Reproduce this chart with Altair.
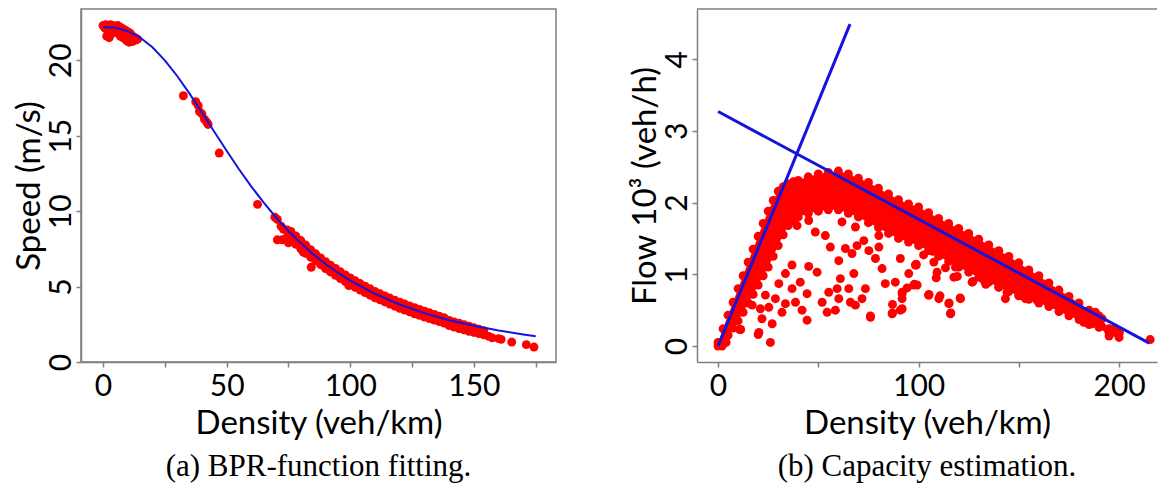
import altair as alt
import pandas as pd

# ---------------- (a) BPR-function fitting ----------------
bpr_x = [0, 5, 10, 15, 20, 25, 30, 35, 40, 45, 50, 55, 60, 65, 70, 75, 80, 85, 90, 95,
         100, 110, 120, 130, 140, 150, 160, 170, 175]
bpr_y = [22.2, 22.15, 21.93, 21.51, 20.86, 20.0, 18.96, 17.79, 16.54, 15.26, 14.0, 12.78,
         11.63, 10.56, 9.58, 8.68, 7.88, 7.15, 6.5, 5.92, 5.4, 4.51, 3.81, 3.24, 2.77, 2.4,
         2.09, 1.83, 1.71]

free_x = [0, 1, 2, 3, 4, 5, 6, 7, 8, 9, 10, 11, 12, 13, 14, 1.5, 2.5, 4, 5.5, 7, 8, 9.5,
          10.5, 12, 13.5, 3, 6, 1, 0.5, 11]
free_y = [22.3, 22.35, 22.3, 22.35, 22.3, 22.25, 22.3, 22.2, 22.1, 22.0, 21.9, 21.8, 21.6,
          21.5, 21.4, 21.6, 21.5, 21.8, 21.9, 21.6, 21.5, 21.3, 21.2, 21.25, 21.35, 22.0,
          22.05, 22.1, 22.2, 21.5]

mid_x = [32.5, 37.5, 38.5, 39, 40, 41, 42, 42.5, 47, 62.5, 69.5, 70.5, 72, 73, 74.5, 70.5,
         72.5, 74, 75, 81, 84.2, 89, 99.4]
mid_y = [17.65, 17.25, 17.0, 16.6, 16.45, 16.1, 15.9, 15.75, 13.85, 10.45, 9.6, 9.45, 9.0,
         8.8, 8.75, 8.1, 8.1, 8.2, 7.9, 7.28, 6.28, 6.4, 5.07]

cong_x = [76, 78, 80, 82, 84, 86, 88, 90, 92, 94, 96, 98, 100, 102, 104, 106, 108, 110, 112,
          114, 116, 118, 120, 122, 124, 126, 128, 130, 132, 134, 136, 138, 140, 142, 144, 146,
          148, 150, 152, 154]
cong_hi = [8.65, 8.35, 8.05, 7.75, 7.45, 7.17, 6.9, 6.65, 6.42, 6.2, 5.98, 5.77, 5.57, 5.38,
           5.2, 5.02, 4.85, 4.67, 4.52, 4.38, 4.24, 4.1, 3.96, 3.84, 3.72, 3.6, 3.48, 3.37,
           3.26, 3.15, 3.04, 2.93, 2.75, 2.66, 2.57, 2.47, 2.37, 2.27, 2.18, 2.08]
cong_lo = [8.1, 7.8, 7.5, 7.2, 6.95, 6.7, 6.45, 6.2, 5.97, 5.75, 5.53, 5.33, 5.13, 4.95, 4.77,
           4.6, 4.43, 4.26, 4.12, 3.98, 3.84, 3.7, 3.56, 3.44, 3.32, 3.2, 3.09, 2.98, 2.88,
           2.78, 2.68, 2.58, 2.42, 2.32, 2.22, 2.13, 2.04, 1.96, 1.88, 1.8]

tail_x = [156, 157.4, 160, 161, 165.3, 171.2, 174.3]
tail_y = [1.7, 1.6, 1.55, 1.5, 1.32, 1.15, 0.99]

# ---------------- (b) Capacity estimation ----------------
band_x = [0, 2.5, 5, 7.5, 10, 12.5, 15, 17.5, 20, 22.5, 25, 27.5, 30, 32.5, 35, 37.5, 40,
          45, 50, 55, 60, 65, 70, 75, 80, 85, 90, 95, 100, 105, 110, 115, 120, 125, 130, 135,
          140, 145, 150, 155, 160, 165, 170, 175, 180, 185, 190, 195, 200]
band_top = [0.05, 0.24, 0.43, 0.61, 0.8, 0.98, 1.17, 1.35, 1.53, 1.71, 1.88, 2.03, 2.16, 2.22,
            2.26, 2.29, 2.31, 2.36, 2.4, 2.42, 2.44, 2.4, 2.34, 2.28, 2.2, 2.12, 2.04, 1.98,
            1.94, 1.86, 1.78, 1.71, 1.64, 1.57, 1.49, 1.41, 1.33, 1.25, 1.16, 1.06, 0.98,
            0.88, 0.78, 0.69, 0.6, 0.5, 0.42, 0.24, 0.18]
band_bot = [0, 0.05, 0.15, 0.25, 0.35, 0.47, 0.6, 0.72, 0.85, 0.98, 1.1, 1.25, 1.4, 1.55,
            1.68, 1.75, 1.8, 1.85, 1.88, 1.9, 1.9, 1.85, 1.8, 1.72, 1.65, 1.57, 1.5, 1.45,
            1.4, 1.33, 1.25, 1.18, 1.1, 1.03, 0.96, 0.89, 0.82, 0.76, 0.7, 0.65, 0.6, 0.55,
            0.48, 0.42, 0.37, 0.3, 0.26, 0.14, 0.12]

sparse_x = [26.1, 20, 10.8, 27, 31.9, 45.2, 49.4, 36.9, 33.6, 30.3, 36.9, 41, 44.4, 38.6,
            41.9, 44.4, 33.6, 28.6, 23.6, 25.3, 21.1, 21.9, 17, 51.9, 55.2, 59.4, 54.4, 58.5,
            60.2, 61, 65.2, 66, 68.5, 71.8, 73.5, 76, 67.7, 63.5, 66.8, 69.3, 72.7, 75.2, 80.2,
            78.5, 81.8, 83.4, 88.4, 86.8, 90.9, 91.8, 91.8, 95.1, 98.4, 99.3, 105, 48.5, 53.5,
            56, 39.4, 45.2, 68.5, 61.8, 80.2, 60.2, 105.2, 110.7, 115.2, 116.1, 120.7, 108.8,
            113.4, 119.3, 127.1, 133.5, 98.8, 102.5, 107, 97.9, 94.3, 87, 91.5, 76, 87, 20.4,
            11.3, 2, 4, 215.5, 200, 197, 90.9, 98.8, 97.6, 91.8, 91.8, 105.1, 110.1, 115.1,
            115.9, 120.9, 107.6, 109.2, 117.6, 118.4, 126.7, 132.5, 135, 140, 144.1, 143.3,
            150, 153.3, 159.1, 164.9, 171.6, 177.4, 182.4, 186.5, 191.5, 188.2, 194.9, 199.9,
            197.4]
sparse_y = [0.05, 0.16, 0.23, 0.31, 0.47, 1.11, 1.03, 1.13, 1.01, 0.87, 0.8, 0.89, 0.73,
            0.61, 0.5, 0.36, 0.59, 0.66, 0.71, 0.54, 0.52, 0.38, 0.57, 0.61, 0.75, 0.8, 0.47,
            0.5, 0.66, 0.94, 0.8, 0.61, 0.57, 0.66, 0.8, 0.4, 1.01, 1.36, 1.29, 1.4, 1.47,
            1.33, 1.38, 1.22, 1.08, 0.87, 0.89, 0.45, 0.5, 0.75, 0.66, 1.01, 1.13, 0.85, 0.71,
            1.59, 1.54, 1.38, 1.68, 1.75, 1.66, 1.73, 1.54, 1.19, 0.72, 0.7, 0.6, 0.46, 0.67,
            0.95, 1.09, 0.97, 0.9, 0.86, 1.14, 1.27, 1.32, 0.86, 0.81, 0.58, 0.51, 0.42, 0.46,
            0.19, 0.23, 0.0, 0.05, 0.09, 0.2, 0.22, 1.22, 1.13, 0.85, 0.73, 0.52, 0.71, 0.66,
            0.59, 0.45, 0.66, 1.17, 1.03, 0.96, 1.1, 0.89, 0.92, 1.06, 0.82, 0.75, 0.66, 0.71,
            0.66, 0.64, 0.59, 0.57, 0.52, 0.33, 0.31, 0.38, 0.47, 0.2, 0.17, 0.24]

line_free_x = [0, 65.8]
line_free_y = [0, 4.49]
line_cong_x = [0, 215]
line_cong_y = [3.27, 0.04]

RED = "#ff0000"
BLUE = "#1414dc"
GRAY = "#7f7f7f"
FONT = "Lato"
SERIF = "Liberation Serif"
DOT = 80

# ---------- left panel ----------
left_pts = pd.DataFrame({
    "x": free_x + mid_x + cong_x + cong_x + tail_x,
    "y": free_y + mid_y + cong_hi + cong_lo + tail_y,
})
left_curve = pd.DataFrame({"x": bpr_x, "y": bpr_y})

lx_scale = alt.Scale(domain=[-8.9, 183.2], nice=False, zero=False)
ly_scale = alt.Scale(domain=[0, 23.4], nice=False, zero=False)

left = alt.layer(
    alt.Chart(left_pts).mark_circle(color=RED, opacity=1, size=DOT).encode(
        x=alt.X("x:Q", scale=lx_scale,
                axis=alt.Axis(values=[0, 25, 50, 75, 100, 125, 150, 175],
                              labelExpr="datum.value % 50 == 0 ? datum.label : ''",
                              title="Density (veh/km)")),
        y=alt.Y("y:Q", scale=ly_scale,
                axis=alt.Axis(values=[0, 5, 10, 15, 20], labelAngle=270, format="d",
                              title="Speed (m/s)")),
    ),
    alt.Chart(left_curve).mark_line(color=BLUE, strokeWidth=2).encode(
        x="x:Q", y="y:Q"
    ),
).properties(
    width=475, height=353,
    title=alt.TitleParams("(a) BPR-function fitting.", orient="bottom", anchor="middle",
                          font=SERIF, fontSize=31, fontWeight="normal", color="black",
                          offset=12),
)

# ---------- right panel ----------
band = pd.DataFrame({"x": band_x, "top": band_top, "bot": band_bot})
edge = pd.DataFrame({"x": band_x + band_x, "y": band_top + band_bot})
sparse = pd.DataFrame({"x": sparse_x, "y": sparse_y})
lines = pd.DataFrame({
    "x": line_free_x + line_cong_x,
    "y": line_free_y + line_cong_y,
    "line": ["free", "free", "cong", "cong"],
})
frame_top = pd.DataFrame({"edge": ["top"]})

rx_scale = alt.Scale(domain=[-10.5, 218.9], nice=False, zero=False)
ry_scale = alt.Scale(domain=[-0.223, 4.70], nice=False, zero=False)

right = alt.layer(
    alt.Chart(band).mark_area(color=RED, opacity=1).encode(
        x=alt.X("x:Q", scale=rx_scale,
                axis=alt.Axis(values=[0, 50, 100, 150, 200],
                              labelExpr="datum.value % 100 == 0 ? datum.label : ''",
                              title="Density (veh/km)")),
        y=alt.Y("top:Q", scale=ry_scale,
                axis=alt.Axis(values=[0, 1, 2, 3, 4], labelAngle=270, format="d",
                              title="Flow 10³ (veh/h)")),
        y2="bot:Q",
    ),
    alt.Chart(edge).mark_circle(color=RED, opacity=1, size=DOT).encode(
        x="x:Q", y="y:Q"
    ),
    alt.Chart(sparse).mark_circle(color=RED, opacity=1, size=DOT).encode(
        x="x:Q", y="y:Q"
    ),
    alt.Chart(lines).mark_line(color=BLUE, strokeWidth=3).encode(
        x="x:Q", y="y:Q", detail="line:N",
    ),
    alt.Chart(frame_top).mark_rule(color=GRAY, strokeWidth=1.5).encode(
        x=alt.value(0), x2=alt.value("width"), y=alt.value(0)
    ),
).properties(
    width=460, height=353,
    view=alt.ViewBackground(strokeOpacity=0),
    title=alt.TitleParams("(b) Capacity estimation.", orient="bottom", anchor="middle",
                          font=SERIF, fontSize=31, fontWeight="normal", color="black",
                          offset=12),
)

chart = alt.hconcat(left, right, spacing=72).properties(
    padding={"left": 4, "top": 0, "right": 0, "bottom": 0},
    background="white",
).configure_axis(
    labelFont=FONT, labelFontSize=30, titleFont=FONT, titleFontSize=33,
    titleFontWeight="normal", labelColor="black", titleColor="black",
    domainColor=GRAY, tickColor=GRAY, domainWidth=1.5, tickWidth=1.5, tickSize=5,
    grid=False,
).configure_axisX(
    labelPadding=4, titlePadding=6,
).configure_axisY(
    labelPadding=0, titlePadding=0,
).configure_view(stroke=GRAY, strokeWidth=1.5)

chart.save("out.html", embed_options={"renderer": "svg", "actions": False})
